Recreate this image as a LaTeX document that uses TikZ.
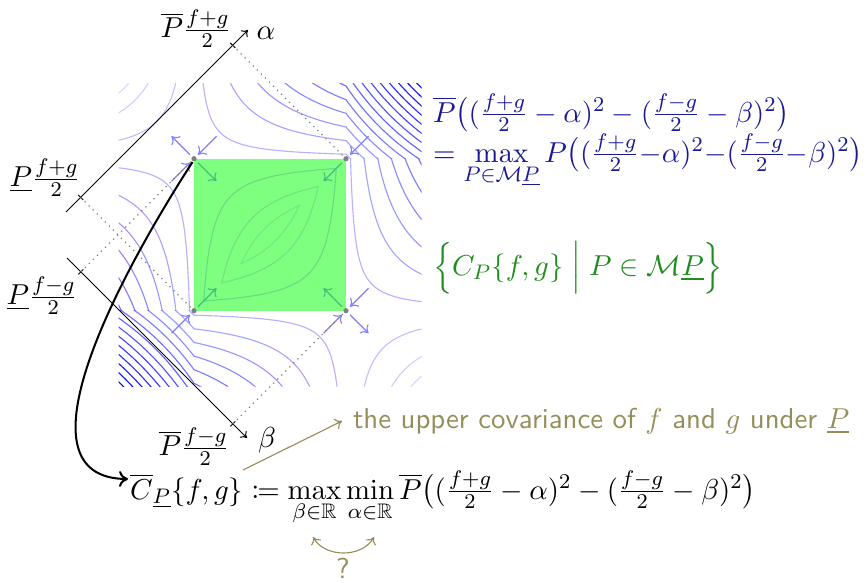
\documentclass[tikz,border=0pt]{standalone}
\usepackage{amsmath,amssymb,mathtools}
\usetikzlibrary{arrows.meta}
\definecolor{navytext}{RGB}{25,25,150}
\definecolor{greentext}{RGB}{30,140,30}
\definecolor{olivetext}{RGB}{150,142,90}
\begin{document}
\begin{tikzpicture}[x=0.38pt,y=-0.38pt,
  every node/.style={font=\fontsize{10.95}{13.6}\selectfont, inner sep=0pt, outer sep=0pt},
  axisline/.style={line width=0.38pt,-{To[length=2.2pt,width=3.6pt]}},
  tickmark/.style={line width=0.38pt},
  guide/.style={gray, line width=0.47pt, dash pattern=on 0.47pt off 1.7pt},
  flow/.style={blue!50, line width=0.43pt,-{To[length=2.6pt,width=4.7pt]}},
  isoline/.style={blue, line width=0.43pt},
  cornerdot/.style={fill=gray},
  olivearrow/.style={olivetext, line width=0.43pt,-{To[length=2.6pt,width=4.3pt]}},
  bigarrow/.style={black, line width=0.77pt,-{To[length=3.4pt,width=6pt]}}]
\useasboundingbox (0,0) rectangle (867,582);

% key points
\coordinate (ctr) at (270,234.7);
\coordinate (tl) at (194,158.7);
\coordinate (tr) at (346,158.7);
\coordinate (bl) at (194,310.7);
\coordinate (br) at (346,310.7);

% ---------- contour plot (units of 10px, y upwards) ----------
\def\contourlevels{181.69,196.50,217.20,237.90,258.60,279.30,300.00,320.70,341.40,362.10,382.80,403.50,424.20,444.90,465.60,486.30,507.00}
\begin{scope}[shift={(ctr)}, x=3.8pt, y=3.8pt]
  \clip (-15.15,-15.15) rectangle (15.15,15.15);
  % top-right region
  \begin{scope}
    \clip (7.6,7.6) rectangle (15.2,15.2);
    \foreach \lv in \contourlevels {
      \pgfmathsetmacro\op{min(1,0.15+0.85*(\lv-180)/330)}
      \pgfmathsetmacro\R{sqrt(\lv)}
      \draw[isoline, draw opacity=\op] plot[variable=\pv, domain=-0.6:0.6, samples=61, smooth]
        ({-7.6+\R*exp(\pv)},{-7.6+\R*exp(-\pv)});
    }
  \end{scope}
  % bottom-left region
  \begin{scope}
    \clip (-15.2,-15.2) rectangle (-7.6,-7.6);
    \foreach \lv in \contourlevels {
      \pgfmathsetmacro\op{min(1,0.15+0.85*(\lv-180)/330)}
      \pgfmathsetmacro\R{sqrt(\lv)}
      \draw[isoline, draw opacity=\op] plot[variable=\pv, domain=-0.6:0.6, samples=61, smooth]
        ({7.6-\R*exp(\pv)},{7.6-\R*exp(-\pv)});
    }
  \end{scope}
  % lower-right region
  \begin{scope}
    \clip (-7.6,-7.6) -- (-7.6,-15.2) -- (15.2,-15.2) -- (15.2,7.6) -- (7.6,7.6) -- cycle;
    \foreach \lv in \contourlevels {
      \pgfmathsetmacro\op{min(1,0.15+0.85*(\lv-180)/330)}
      \pgfmathsetmacro\w{\lv-231.04}
      \pgfmathsetmacro\sg{(\w<0)?-1:1}
      \pgfmathsetmacro\rr{sqrt(abs(\w))}
      \pgfmathsetmacro\tm{ln(23/\rr)}
      \draw[isoline, draw opacity=\op] plot[variable=\pv, domain=-\tm:\tm, samples=150, smooth]
        ({7.6+\rr*exp(\pv)},{-7.6+\sg*\rr*exp(-\pv)});
      \draw[isoline, draw opacity=\op] plot[variable=\pv, domain=-\tm:\tm, samples=150, smooth]
        ({7.6-\rr*exp(\pv)},{-7.6-\sg*\rr*exp(-\pv)});
    }
  \end{scope}
  % upper-left region
  \begin{scope}
    \clip (-7.6,-7.6) -- (-15.2,-7.6) -- (-15.2,15.2) -- (7.6,15.2) -- (7.6,7.6) -- cycle;
    \foreach \lv in \contourlevels {
      \pgfmathsetmacro\op{min(1,0.15+0.85*(\lv-180)/330)}
      \pgfmathsetmacro\w{\lv-231.04}
      \pgfmathsetmacro\sg{(\w<0)?-1:1}
      \pgfmathsetmacro\rr{sqrt(abs(\w))}
      \pgfmathsetmacro\tm{ln(23/\rr)}
      \draw[isoline, draw opacity=\op] plot[variable=\pv, domain=-\tm:\tm, samples=150, smooth]
        ({-7.6+\rr*exp(\pv)},{7.6+\sg*\rr*exp(-\pv)});
      \draw[isoline, draw opacity=\op] plot[variable=\pv, domain=-\tm:\tm, samples=150, smooth]
        ({-7.6-\rr*exp(\pv)},{7.6-\sg*\rr*exp(-\pv)});
    }
  \end{scope}
\end{scope}

% ---------- flow arrows at the corners ----------
\foreach \k in {tl,br} {
  \draw[flow] ([shift={(-4,-4)}]\k) -- ([shift={(-22.5,-22.5)}]\k);
  \draw[flow] ([shift={(22.5,-22.5)}]\k) -- ([shift={(4,-4)}]\k);
  \draw[flow] ([shift={(4,4)}]\k) -- ([shift={(22.5,22.5)}]\k);
  \draw[flow] ([shift={(-22.5,22.5)}]\k) -- ([shift={(-4,4)}]\k);
}
\draw[flow] ([shift={(22.5,-22.5)}]tr) -- ([shift={(4,-4)}]tr);
\draw[flow] ([shift={(-4,4)}]tr) -- ([shift={(-22.5,22.5)}]tr);
\draw[flow] ([shift={(4,-4)}]bl) -- ([shift={(22.5,-22.5)}]bl);
\draw[flow] ([shift={(-22.5,22.5)}]bl) -- ([shift={(-4,4)}]bl);

% ---------- green square ----------
\fill[green, fill opacity=0.5] (tl) rectangle (br);
\foreach \k in {tl,tr,bl,br} \fill[cornerdot] (\k) circle (2.6);

% ---------- rotated axes ----------
\coordinate (a0) at (66,212);
\coordinate (a1) at (248,30);
\coordinate (alo) at (80.65,197.35);
\coordinate (ahi) at (232.65,45.35);
\coordinate (b0) at (67,258);
\coordinate (b1) at (247,438);
\coordinate (blo) at (80.85,271.85);
\coordinate (bhi) at (232.85,423.85);
\draw[axisline] (a0) -- (a1);
\draw[axisline] (b0) -- (b1);
\draw[tickmark] ([shift={(-2.5,-2.5)}]alo) -- ([shift={(2.5,2.5)}]alo);
\draw[tickmark] ([shift={(-2.5,-2.5)}]ahi) -- ([shift={(2.5,2.5)}]ahi);
\draw[tickmark] ([shift={(-2.5,2.5)}]blo) -- ([shift={(2.5,-2.5)}]blo);
\draw[tickmark] ([shift={(-2.5,2.5)}]bhi) -- ([shift={(2.5,-2.5)}]bhi);
\draw[guide] (ahi) -- (tr);
\draw[guide] (alo) -- (bl);
\draw[guide] (blo) -- (tl);
\draw[guide] (bhi) -- (br);

% axis labels
\node (pbarfg) at (196,29) {$\overline{P}\frac{f+g}{2}$};
\node (alpha) at (266,33) {$\alpha$};
\node (pfg) at (45,178) {$\underline{P}\frac{f+g}{2}$};
\node (pfmg) at (42,296) {$\underline{P}\frac{f-g}{2}$};
\node (pbarfmg) at (194,447) {$\overline{P}\frac{f-g}{2}$};
\node (beta) at (267,440) {$\beta$};

% ---------- texts ----------
\node[anchor=base west, text=navytext] (upper1) at (433,122)
  {$\overline{P}\bigl((\frac{f+g}{2}-\alpha)^2-(\frac{f-g}{2}-\beta)^2\bigr)$};
\node[anchor=base west, text=navytext] (upper2) at (433,162)
  {$=\max\limits_{P\in\mathcal{M}\underline{P}}P\bigl((\frac{f+g}{2}{-}\alpha)^2{-}(\frac{f-g}{2}{-}\beta)^2\bigr)$};
\node[anchor=base west, text=greentext] (covset) at (433,275)
  {$\Bigl\{C_P\{f,g\}\Bigm| P\in\mathcal{M}\underline{P}\Bigr\}$};
\node[anchor=base west] (cform) at (130,499)
  {$\overline{C}_{\underline{P}}\{f,g\}\coloneqq\max\limits_{\beta\in\mathbb{R}}\min\limits_{\alpha\in\mathbb{R}}\overline{P}\bigl((\frac{f+g}{2}-\alpha)^2-(\frac{f-g}{2}-\beta)^2\bigr)$};
\node[anchor=base west, text=olivetext, font=\fontsize{10.95}{13.6}\selectfont\sffamily] (note) at (353,428)
  {the upper covariance of $f$ and $g$ under $\underline{P}$};
\node[anchor=base, text=olivetext, font=\fontsize{10.95}{13.6}\selectfont\sffamily] (quest) at (343,578) {?};

% ---------- connectors ----------
\coordinate (curvestart) at (192.5,162);
\coordinate (ctip) at (128,479);
\draw[bigarrow] (curvestart) .. controls (110,290) and (15,478) .. (ctip);
\coordinate (olA) at (243,470);
\coordinate (olB) at (342,421);
\draw[olivearrow] (olA) -- (olB);
\coordinate (swL) at (313,537);
\coordinate (swR) at (374,537);
\draw[olivearrow, {To[length=2.6pt,width=4.3pt]}-{To[length=2.6pt,width=4.3pt]}] (swL) .. controls (325,558) and (362,558) .. (swR);
\end{tikzpicture}
\end{document}
